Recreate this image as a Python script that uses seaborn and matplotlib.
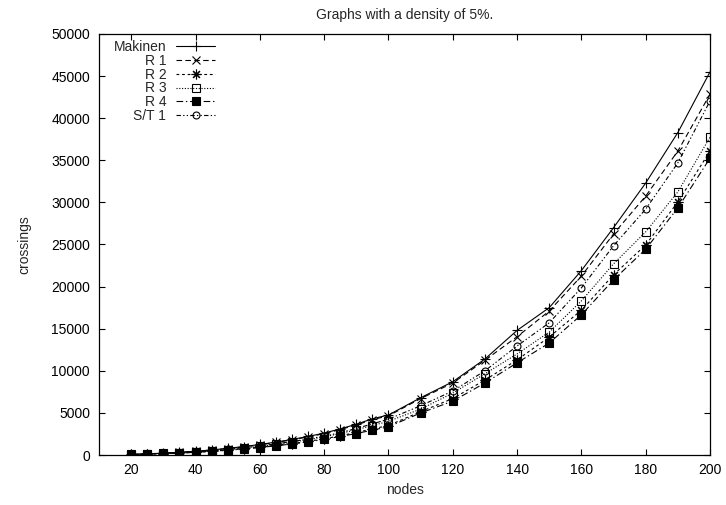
import matplotlib
matplotlib.use("Agg")
import matplotlib.pyplot as plt
import seaborn as sns

# node counts on the x axis
nodes = [20, 25, 30, 35, 40, 45, 50, 55, 60, 65, 70, 75, 80, 85, 90, 95, 100,
         110, 120, 130, 140, 150, 160, 170, 180, 190, 200]

# crossings per algorithm
makinen = [80, 140, 220, 320, 450, 600, 790, 1000, 1250, 1530, 1850, 2200, 2600,
           3100, 3650, 4300, 4750, 6800, 8700, 11400, 14800, 17500, 21900,
           27000, 32300, 38300, 45500]
r1 = [78, 135, 215, 310, 440, 585, 770, 975, 1220, 1490, 1800, 2150, 2540,
      3020, 3560, 4200, 4650, 6700, 8550, 11250, 14050, 17100, 21250, 26250,
      30750, 36100, 42850]
r2 = [58, 100, 160, 235, 330, 440, 580, 740, 920, 1130, 1360, 1620, 1920,
      2280, 2680, 3100, 3500, 5150, 6700, 8900, 11300, 14000, 17200, 21400,
      24950, 30050, 36100]
r3 = [65, 115, 180, 265, 375, 495, 650, 830, 1030, 1260, 1530, 1820, 2150,
      2550, 3000, 3500, 4000, 5450, 7350, 9650, 12000, 14600, 18300, 22700,
      26500, 31250, 37750]
r4 = [55, 97, 155, 225, 320, 425, 560, 710, 890, 1090, 1310, 1560, 1850,
      2200, 2550, 2950, 3350, 4990, 6400, 8550, 10950, 13300, 16650, 20800,
      24450, 29350, 35250]
st1 = [68, 120, 190, 275, 390, 515, 680, 860, 1080, 1320, 1600, 1900, 2250,
       2650, 3150, 3700, 4250, 5850, 7600, 10000, 12950, 15700, 19850, 24850,
       29200, 34700, 42050]

labels = ["Makinen", "R 1", "R 2", "R 3", "R 4", "S/T 1"]
series = [makinen, r1, r2, r3, r4, st1]

# gnuplot-like styles: (linestyle, marker, size, facecolor)
styles = [
    ("-", "+", 7, "black"),
    ((0, (5, 3)), "x", 6, "black"),
    ((0, (2.5, 2.5)), (8, 2, 0), 7, "black"),
    ((0, (1, 1.5)), "s", 5.5, "none"),
    ((0, (6, 2.5, 1.2, 2.5)), "s", 5.5, "black"),
    ((0, (4, 2, 1.2, 2, 1.2, 2)), "o", 5, "none"),
]

sns.set_style("ticks")
plt.rcParams["font.family"] = ["Liberation Sans", "DejaVu Sans"]
FS = 10

fig = plt.figure(figsize=(7.26, 5.05), dpi=100)
ax = fig.add_axes([0.1364, 0.099, 0.8416, 0.8337])

for lab, vals, (ls, mk, ms, fc) in zip(labels, series, styles):
    sns.lineplot(x=nodes, y=vals, ax=ax, label=lab, color="black",
                 linestyle=ls, linewidth=0.8, marker=mk, markersize=ms,
                 markerfacecolor=fc, markeredgecolor="black",
                 markeredgewidth=0.8)

ax.set_xlim(10, 200)
ax.set_ylim(0, 50000)
ax.set_xticks(range(20, 201, 20))
ax.set_yticks(range(0, 50001, 5000))

ax.tick_params(direction="in", length=4.5, width=0.8, top=True, right=True,
               labelsize=FS, colors="black")
ax.tick_params(axis="x", pad=6)
ax.tick_params(axis="y", pad=6.5)
for sp in ax.spines.values():
    sp.set_visible(True)
    sp.set_linewidth(0.9)
    sp.set_color("black")

ax.set_xlabel("nodes", fontsize=FS, labelpad=4)
ax.set_ylabel("crossings", fontsize=FS, labelpad=14)
ax.set_title("Graphs with a density of 5%.", fontsize=FS, pad=11)

leg = ax.legend(loc="upper left", bbox_to_anchor=(0.024, 0.985),
                markerfirst=False, frameon=False, fontsize=FS,
                handlelength=2.8, handletextpad=0.72, labelspacing=-0.02,
                borderpad=0, borderaxespad=0)

fig.savefig("out.png", dpi=100)
